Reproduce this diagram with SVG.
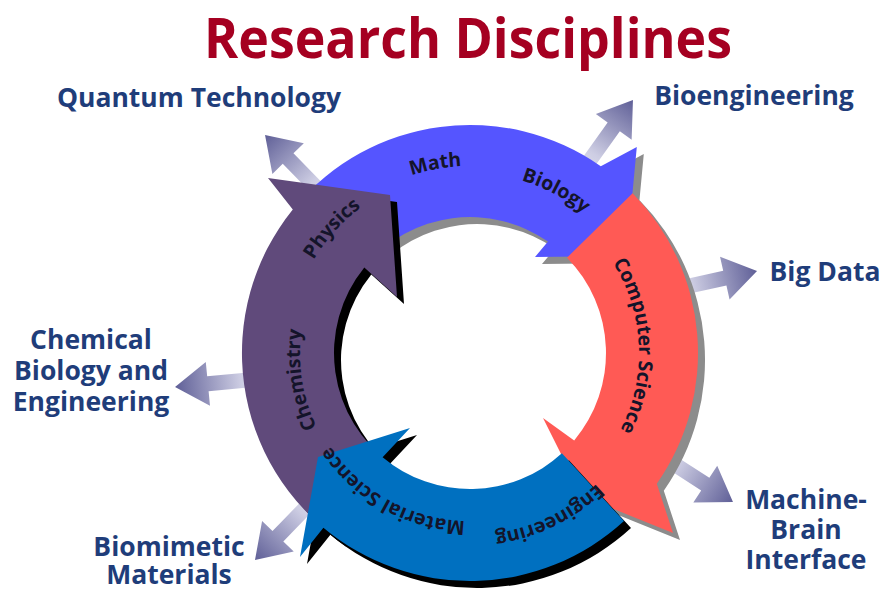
<svg xmlns="http://www.w3.org/2000/svg" xmlns:xlink="http://www.w3.org/1999/xlink" width="885" height="589" viewBox="0 0 885 589">
<defs>
<style>
.title{font-family:"Open Sans","Liberation Sans",sans-serif;font-weight:700;fill:#A50021}
.lbl{font-family:"Open Sans","Liberation Sans",sans-serif;font-weight:700;font-size:26.5px;fill:#1F3D7A;text-anchor:middle}
.ring{font-family:"Open Sans","Liberation Sans",sans-serif;font-weight:700;font-size:19.5px;fill:#14142a}
.out{fill:url(#gOut)}
.shG{fill:#8c8c8c}
.shK{fill:#000}
</style>
<linearGradient id="gOut" x1="0" y1="0" x2="1" y2="0">
<stop offset="0" stop-color="#e4e4f1"/>
<stop offset="0.3" stop-color="#cdcde3"/>
<stop offset="1" stop-color="#5f5f97"/>
</linearGradient>
<path id="outArrow" d="M-20,-7.5 H42 V-22 L75,0 L42,22 V7.5 H-20 Z"/>
<path id="pBlue" d="M295.3,206.4 A228,228 0 0 1 600.8,166.2 L636.8,147.1 L626.5,256 L535,257 L548,241.6 A136,136 0 0 0 365.8,265.6 Z"/>
<path id="pRed" d="M632.6,193.2 A228,228 0 0 1 656.8,483.8 L673,533 L582.2,496.3 L543,418 L574.2,440.4 A136,136 0 0 0 567,257.7 Z"/>
<path id="pPurple" d="M339.2,539.8 A228,228 0 0 1 292.8,209.5 L268,178 L390,195 L397,297 L364.3,267.4 A136,136 0 0 0 392,464.4 Z"/>
<path id="pDark" d="M624,521.1 A228,228 0 0 1 323.4,527.7 L300,557 L318,457 L410,428 L382.6,457.2 A136,136 0 0 0 561.9,453.3 Z"/>
<path id="tMath" d="M285.6,321.8 A187,187 0 0 1 631.3,258.4"/>
<path id="tBio" d="M349.3,219.4 A180,180 0 0 1 648.3,377.7"/>
<path id="tPhys" d="M309.3,438.4 A182,182 0 0 1 538.2,184.3"/>
<path id="tChem" d="M437.6,519.9 A170,170 0 0 1 387.6,204.3"/>
<path id="tCS" d="M520.5,191.7 A169,169 0 0 1 534.9,509"/>
<path id="tEng" d="M651,334 A182,182 0 0 1 343.6,483.9"/>
<path id="tMat" d="M580.2,479.8 A168,168 0 0 1 304.1,326.7"/>
</defs>
<rect width="885" height="589" fill="#fff"/>
<g id="title">
<text class="title" x="468" y="58" font-size="55" text-anchor="middle" textLength="528" lengthAdjust="spacingAndGlyphs">Research Disciplines</text>
</g>
<g id="connectors">
<use href="#outArrow" class="out" transform="translate(317.5,188.6) rotate(225.6)"/>
<use href="#outArrow" class="out" transform="translate(589.3,161) rotate(-54.4)"/>
<use href="#outArrow" class="out" transform="translate(683.8,287.2) rotate(-12.5)"/>
<use href="#outArrow" class="out" transform="translate(670,461.3) rotate(32.9)"/>
<use href="#outArrow" class="out" transform="translate(249.7,379.8) rotate(174.5)"/>
<use href="#outArrow" class="out" transform="translate(307.1,506.1) rotate(134)"/>
</g>
<g id="node-math-biology">
<use href="#pBlue" class="shG" transform="translate(7,7)"/>
<use href="#pBlue" fill="#5555FF"/>
<text class="ring"><textPath href="#tMath" startOffset="50%" text-anchor="middle">Math</textPath></text>
<text class="ring"><textPath href="#tBio" startOffset="50%" text-anchor="middle">Biology</textPath></text>
</g>
<g id="node-computer-science">
<use href="#pRed" class="shG" transform="translate(7,7)"/>
<use href="#pRed" fill="#FF5A55"/>
<text class="ring"><textPath href="#tCS" startOffset="50%" text-anchor="middle">Computer Science</textPath></text>
</g>
<g id="node-physics-chemistry">
<use href="#pPurple" class="shK" transform="translate(7,7)"/>
<use href="#pPurple" fill="#604A7B"/>
<text class="ring"><textPath href="#tPhys" startOffset="50%" text-anchor="middle">Physics</textPath></text>
<text class="ring"><textPath href="#tChem" startOffset="50%" text-anchor="middle">Chemistry</textPath></text>
</g>
<g id="node-engineering-material">
<use href="#pDark" class="shK" transform="translate(7,7)"/>
<use href="#pDark" fill="#0070C0"/>
<text class="ring"><textPath href="#tEng" startOffset="50%" text-anchor="middle">Engineering</textPath></text>
<text class="ring"><textPath href="#tMat" startOffset="50%" text-anchor="middle">Material Science</textPath></text>
</g>
<g id="node-quantum"><text class="lbl" x="199" y="107">Quantum Technology</text></g>
<g id="node-bioengineering"><text class="lbl" x="754" y="105">Bioengineering</text></g>
<g id="node-bigdata"><text class="lbl" x="825" y="281">Big Data</text></g>
<g id="node-machine-brain"><text class="lbl" x="806"><tspan x="806" y="509">Machine-</tspan><tspan x="806" y="539">Brain</tspan><tspan x="806" y="569">Interface</tspan></text></g>
<g id="node-chemical-biology"><text class="lbl" x="91"><tspan x="91" y="349">Chemical</tspan><tspan x="91" y="380">Biology and</tspan><tspan x="91" y="411">Engineering</tspan></text></g>
<g id="node-biomimetic"><text class="lbl" x="169"><tspan x="169" y="556">Biomimetic</tspan><tspan x="169" y="584">Materials</tspan></text></g>
</svg>
